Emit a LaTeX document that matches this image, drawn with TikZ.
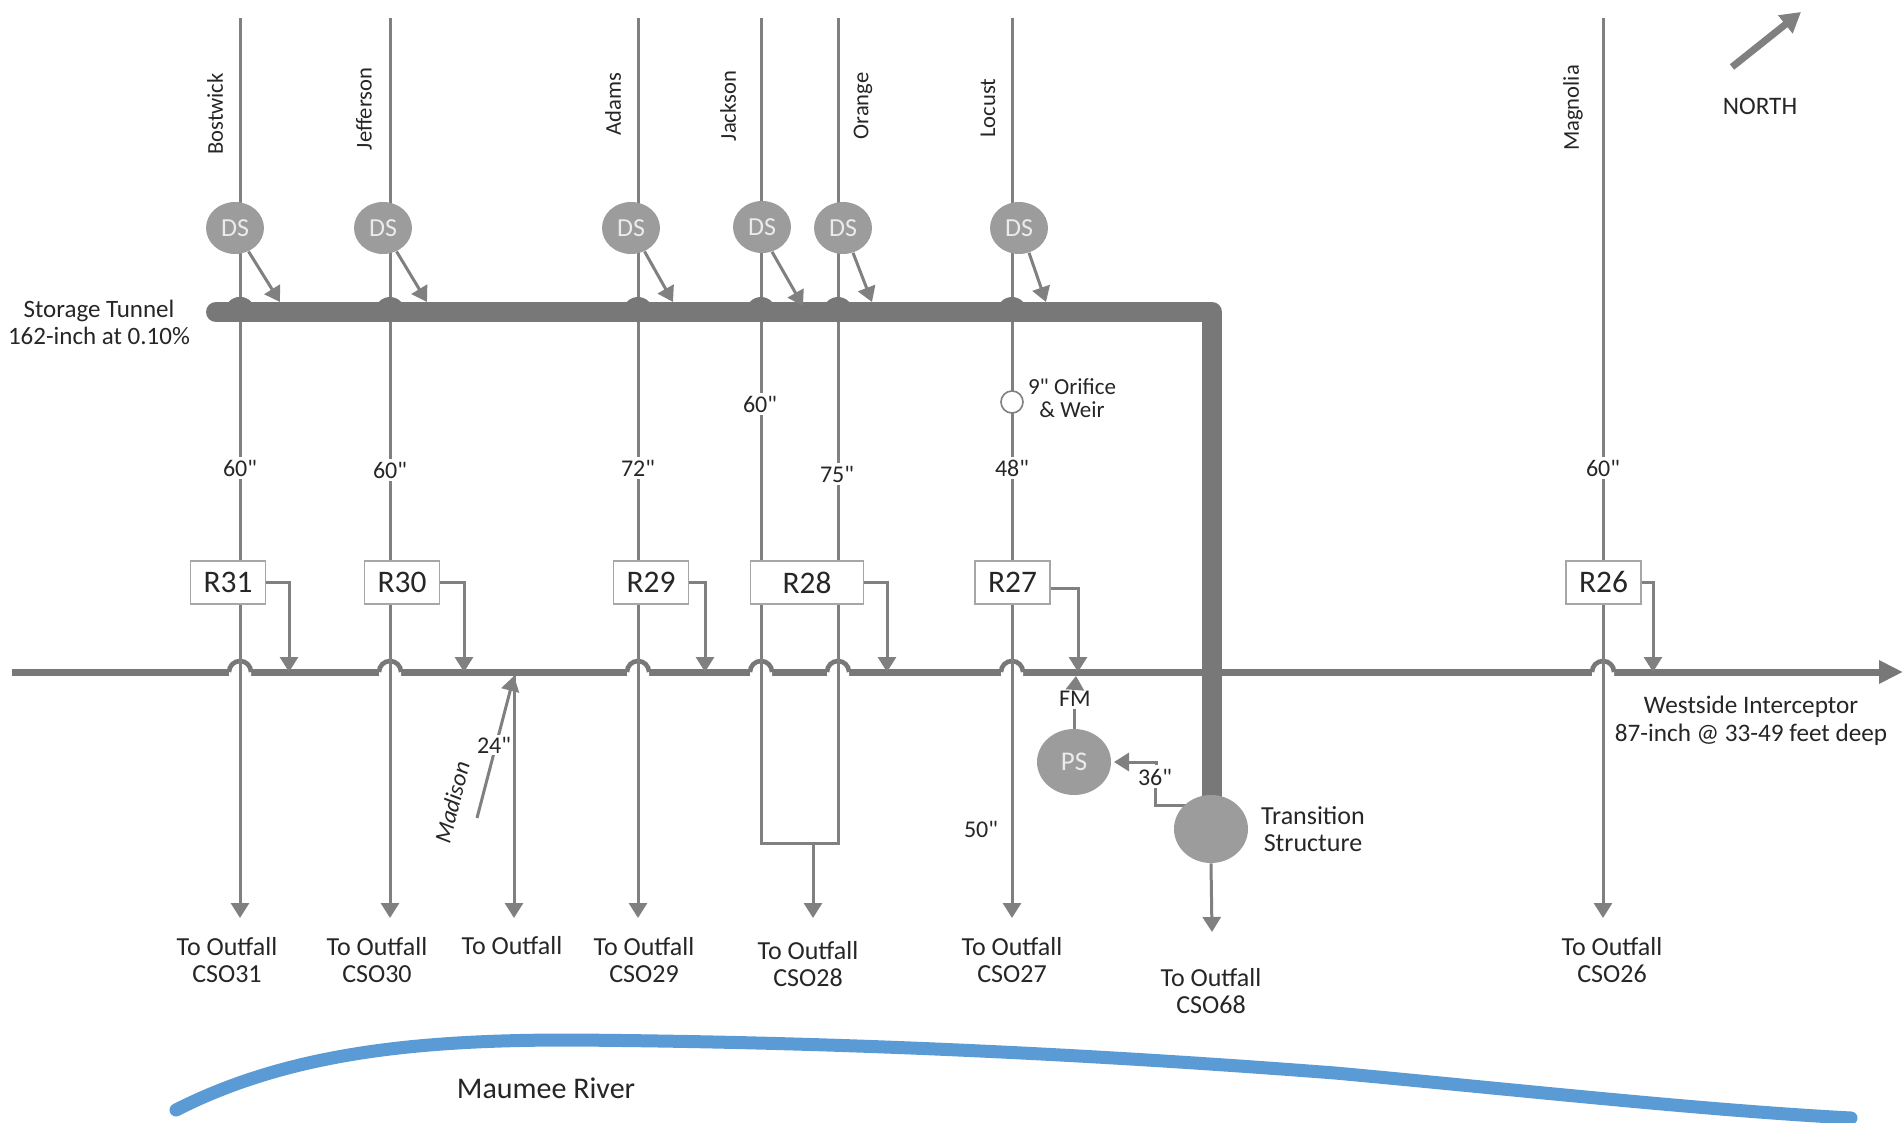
\documentclass[tikz,border=0pt]{standalone}
\usepackage{fontspec}
\setmainfont{Carlito}[Ligatures=TeXOff]
\usetikzlibrary{arrows.meta,calc,shapes.geometric}
\definecolor{pipegrey}{HTML}{808080}
\definecolor{mainsgrey}{HTML}{787878}
\definecolor{discgrey}{HTML}{9C9C9C}
\definecolor{rivercol}{HTML}{5B9BD5}
\definecolor{ink}{HTML}{262626}
\tikzset{
  x=0.5pt,y=-0.5pt,
  every node/.style={text=ink,font=\fontsize{12}{14}\selectfont,inner sep=1pt,align=center},
  pipeline/.style={draw=pipegrey,line width=1.5pt},
  flow/.style={pipeline,-{Triangle[width=9pt,length=7.5pt]}},
  tunnel/.style={draw=mainsgrey,line width=10pt,line join=round,line cap=round},
  interceptor/.style={draw=mainsgrey,line width=3.5pt,-{Triangle[width=11pt,length=12pt]}},
  reg/.style={draw=black!35,fill=white,line width=0.6pt,minimum height=21.5pt,font=\fontsize{15.7}{18}\selectfont,inner sep=0pt},
  dsnode/.style={ellipse,fill=discgrey,minimum width=29pt,minimum height=26pt,inner sep=0pt,text=white!92!black,font=\fontsize{13}{14}\selectfont},
  bigdisc/.style={ellipse,fill=discgrey,minimum width=37pt,minimum height=34pt,inner sep=0pt,text=white!92!black,font=\fontsize{13.5}{14}\selectfont},
  street/.style={rotate=90,font=\fontsize{11.3}{13}\selectfont},
  size/.style={fill=white,inner sep=1.5pt},
  caption/.style={font=\fontsize{13}{13.5}\selectfont},
}
\begin{document}
\begin{tikzpicture}
\useasboundingbox (0,0) rectangle (1903,1123);
\fill[white] (0,0) rectangle (1903,1123);

% river
\draw[rivercol,line width=6.5pt,line cap=round] (176,1110) .. controls (290,1052) and (420,1040) .. (570,1040)
  .. controls (850,1042) and (1100,1055) .. (1335,1073) .. controls (1520,1090) and (1700,1110) .. (1851,1118);
\node[font=\fontsize{15}{16}\selectfont] (rivername) at (546,1088) {Maumee River};

% interceptor with hops
\coordinate (iStart) at (12,672);
\coordinate (iEnd) at (1903,672);
\draw[interceptor] (iStart) -- (iEnd);
\foreach \x in {240,390,638,761,838,1012,1603}{
  \fill[white] (\x-11,677) -- (\x-11,672) arc[start angle=180,end angle=0,radius=5.5pt] -- (\x+11,677) -- cycle;
  \draw[draw=mainsgrey,line width=2.3pt] (\x-11,672) arc[start angle=180,end angle=0,radius=5.5pt];
}

% coordinates of pipe ends
\foreach \n/\x in {a/240,b/390,c/638,d/761,e/838,f/1012,g/1603}{
  \coordinate (top\n) at (\x,18);
}
\foreach \n/\x in {a/240,b/390,c/638,f/1012,g/1603}{
  \coordinate (tip\n) at (\x,918);
}
\draw[flow] (topa) -- (tipa);
\draw[flow] (topb) -- (tipb);
\draw[flow] (topc) -- (tipc);
\draw[flow] (topf) -- (tipf);
\draw[flow] (topg) -- (tipg);

% R28 pair
\coordinate (dBot) at (761,843);
\coordinate (eBot) at (838,843);
\coordinate (deMid) at (813,843);
\coordinate (deTip) at (813,918);
\draw[pipeline,line join=miter] (topd) -- (dBot) -- (eBot) -- (tope);
\draw[flow] (deMid) -- (deTip);

% Madison
\coordinate (madTop) at (514,676);
\coordinate (madTip) at (514,918);
\coordinate (madLow) at (477,818);
\draw[flow] (madTop) -- (madTip);
\draw[flow] (madLow) -- (madTop);
\node[size,inner sep=1pt] (sz24) at (494,745) {24"};
\node[rotate=76,font=\fontsize{11.8}{14}\selectfont] (madison) at (452,802) {\textit{Madison}};

% tunnel
\coordinate (tStart) at (216,312);
\coordinate (tCorner) at (1212,312);
\coordinate (tsTop) at (1212,800);
\draw[tunnel] (tStart) -- (tCorner) -- (tsTop);
\foreach \x in {240,390,638,761,838,1012}{
  \fill[mainsgrey] (\x-15,312) arc[start angle=180,end angle=0,radius=7.5pt] -- cycle;
}
\fill[mainsgrey] (225,312) arc[start angle=180,end angle=0,radius=7.5pt] -- cycle;

% drop shafts
\node[dsnode] (dsa) at (235,228) {DS};
\node[dsnode] (dsb) at (383,228) {DS};
\node[dsnode] (dsc) at (631,228) {DS};
\node[dsnode] (dsd) at (762,227) {DS};
\node[dsnode] (dse) at (843,228) {DS};
\node[dsnode] (dsf) at (1019,228) {DS};
\coordinate (ta) at (280,302);
\coordinate (tb) at (427,302);
\coordinate (tc) at (673,302);
\coordinate (td) at (803,306);
\coordinate (te) at (872,302);
\coordinate (tf) at (1046,302);
\draw[flow] (dsa.-60) -- (ta);
\draw[flow] (dsb.-60) -- (tb);
\draw[flow] (dsc.-60) -- (tc);
\draw[flow] (dsd.-68) -- (td);
\draw[flow] (dse.-68) -- (te);
\draw[flow] (dsf.-68) -- (tf);

% orifice
\node[circle,draw=pipegrey,fill=white,line width=0.8pt,minimum size=11pt,inner sep=0pt] (orifice) at (1012,402) {};
\node[font=\fontsize{11.5}{12}\selectfont] (orificeT) at (1072,398) {9" Orifice\\[-0.5pt]\& Weir};

% sizes
\node[size] (s1) at (240,468) {60"};
\node[size] (s2) at (390,470) {60"};
\node[size] (s3) at (638,468) {72"};
\node[size] (s4) at (760,404) {60"};
\node[size] (s5) at (837,474) {75"};
\node[size] (s6) at (1012,468) {48"};
\node[size] (s7) at (1603,468) {60"};
\node (s8) at (981,829) {50"};

% regulators
\node[reg,minimum width=37.5pt] (r31) at (228,582.5) {R31};
\node[reg,minimum width=37.5pt] (r30) at (402,582.5) {R30};
\node[reg,minimum width=37.5pt] (r29) at (651,582.5) {R29};
\node[reg,minimum width=56.5pt] (r28) at (807,582.5) {R28};
\node[reg,minimum width=37.5pt] (r27) at (1012.5,582.5) {R27};
\node[reg,minimum width=37.5pt] (r26) at (1603.5,582.5) {R26};
\coordinate (ia) at (289,672);
\coordinate (ib) at (464,672);
\coordinate (ic) at (705,672);
\coordinate (id) at (887,672);
\coordinate (ie) at (1078,672);
\coordinate (ig) at (1653,672);
\draw[flow] (r31.east |- 0,582) -| (ia);
\draw[flow] (r30.east |- 0,582) -| (ib);
\draw[flow] (r29.east |- 0,582) -| (ic);
\draw[flow] (r28.east |- 0,582) -| (id);
\draw[flow] (r27.east |- 0,588) -| (ie);
\draw[flow] (r26.east |- 0,582) -| (ig);

% pump station and transition structure
\node (s36) at (1155,777) {36"};
\coordinate (psIn) at (1114,762);
\coordinate (s36up) at (1156,765);
\coordinate (tsJoin) at (1195,805);
\draw[pipeline,-{Triangle[width=9pt,length=7.5pt]}] (s36up) |- (psIn);
\draw[pipeline] (s36.south) |- (tsJoin);
\node[bigdisc,minimum height=33pt] (ps) at (1074,762) {PS};
\node[bigdisc] (ts) at (1211,829) {};
\node (fm) at (1075,699) {FM};
\coordinate (iFM) at (1076,676);
\draw[pipeline] (ps.north) -- (ps.north |- fm.south);
\draw[pipeline,-{Triangle[width=9pt,length=7pt]}] (fm.north) -- (iFM);
\coordinate (tsTip) at (1212,932);
\draw[flow] (ts.south) -- (tsTip);
\node[caption] (tsT) at (1313,829) {Transition\\Structure};

% street names
\node[street] (nBostwick) at (215,114) {Bostwick};
\node[street] (nJefferson) at (364,109) {Jefferson};
\node[street] (nAdams) at (613,104) {Adams};
\node[street] (nJackson) at (728,106) {Jackson};
\node[street] (nOrange) at (863,106) {Orange};
\node[street] (nLocust) at (988,108) {Locust};
\node[street] (nMagnolia) at (1573,108) {Magnolia};

% labels
\node[font=\fontsize{12.5}{13.5}\selectfont] (lStorage) at (99,322) {Storage Tunnel\\162-inch at 0.10\%};
\node[font=\fontsize{12.6}{14}\selectfont] (lWest) at (1751,721) {Westside Interceptor\\87-inch @ 33-49 feet deep};
\node[caption] (o31) at (227,960) {To Outfall\\CSO31};
\node[caption] (o30) at (377,960) {To Outfall\\CSO30};
\node[caption] (oM) at (512,946) {To Outfall};
\node[caption] (o29) at (644,960) {To Outfall\\CSO29};
\node[caption] (o28) at (808,964) {To Outfall\\CSO28};
\node[caption] (o27) at (1012,960) {To Outfall\\CSO27};
\node[caption] (o68) at (1211,991) {To Outfall\\CSO68};
\node[caption] (o26) at (1612,960) {To Outfall\\CSO26};

% north
\coordinate (nFrom) at (1732,67);
\coordinate (nTo) at (1801,12);
\draw[draw=pipegrey,line width=3.5pt,-{Triangle[width=11pt,length=10pt]}] (nFrom) -- (nTo);
\node[font=\fontsize{12.6}{14}\selectfont] (north) at (1760,106) {NORTH};
\end{tikzpicture}
\end{document}
